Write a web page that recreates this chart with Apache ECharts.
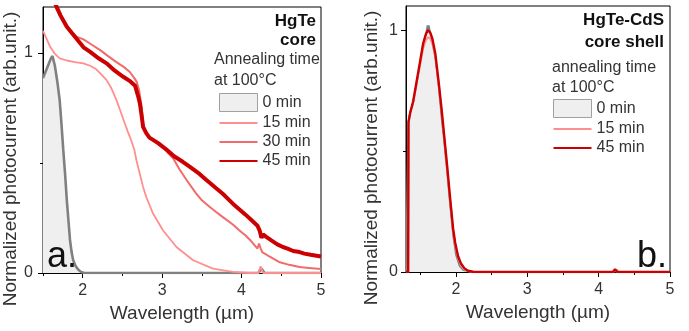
<!DOCTYPE html>
<html><head><meta charset="utf-8">
<script src="https://cdn.jsdelivr.net/npm/echarts@6/dist/echarts.min.js"></script>
<style>html,body{margin:0;padding:0;background:#fff}#c{width:689px;height:331px}</style>
</head><body><div id="c"></div>
<script>
// ---------- Panel a: HgTe core ----------
const aX_0min = [1.50,1.55,1.60,1.62,1.65,1.68,1.71,1.73,1.755,1.78,1.80,1.82,1.84,1.86,1.88,1.91,1.945,1.98,2.02,3.0,4.0,4.21,4.25,4.29,5.0];
const aY_0min = [0.885,0.93,0.975,0.985,0.94,0.87,0.785,0.69,0.56,0.44,0.33,0.24,0.15,0.095,0.058,0.032,0.015,0.005,0.0,0.0,0.0,0.0,0.02,0.0,0.0];

const aX_15min = [1.50,1.55,1.59,1.65,1.71,1.80,1.90,2.01,2.10,2.17,2.24,2.30,2.36,2.425,2.48,2.53,2.57,2.61,2.65,2.676,2.718,2.76,2.80,2.885,3.01,3.18,3.39,3.64,3.89,4.10,4.21,4.24,4.27,5.0];
const aY_15min = [1.10,1.06,1.027,0.995,0.975,0.965,0.958,0.952,0.94,0.925,0.90,0.876,0.84,0.785,0.73,0.679,0.64,0.603,0.56,0.512,0.452,0.391,0.345,0.27,0.194,0.118,0.058,0.02,0.005,0.0,0.0,0.03,0.0,0.0];

const aX_30min = [1.55,1.62,1.67,1.74,1.80,1.92,2.01,2.10,2.22,2.32,2.42,2.52,2.59,2.65,2.68,2.71,2.74,2.76,2.79,2.84,2.95,3.05,3.14,3.22,3.31,3.40,3.43,3.50,3.60,3.68,3.76,3.89,3.97,4.05,4.12,4.20,4.22,4.24,4.26,4.35,4.47,4.60,4.73,4.85,5.0];
const aY_30min = [1.30,1.24,1.20,1.15,1.118,1.073,1.061,1.04,1.012,0.985,0.959,0.935,0.914,0.885,0.868,0.83,0.76,0.68,0.64,0.615,0.585,0.555,0.52,0.47,0.421,0.375,0.36,0.33,0.30,0.277,0.255,0.22,0.194,0.17,0.145,0.111,0.134,0.112,0.095,0.075,0.05,0.037,0.027,0.023,0.018];

const aX_45min = [1.55,1.62,1.67,1.72,1.80,1.92,2.01,2.09,2.20,2.30,2.40,2.51,2.60,2.66,2.70,2.72,2.74,2.76,2.80,2.84,2.95,3.05,3.15,3.26,3.35,3.47,3.55,3.68,3.76,3.89,3.97,4.05,4.14,4.20,4.23,4.25,4.27,4.31,4.37,4.45,4.52,4.58,4.65,4.73,4.79,4.87,5.0];
const aY_45min = [1.32,1.25,1.21,1.17,1.118,1.065,1.025,1.005,0.975,0.952,0.92,0.891,0.87,0.85,0.80,0.77,0.72,0.664,0.635,0.615,0.59,0.562,0.53,0.505,0.482,0.45,0.425,0.385,0.361,0.315,0.29,0.265,0.235,0.215,0.19,0.16,0.175,0.164,0.149,0.13,0.118,0.111,0.10,0.095,0.088,0.083,0.075];

// ---------- Panel b: HgTe-CdS core shell ----------
const bX_0min = [1.30,1.325,1.33,1.34,1.40,1.45,1.50,1.54,1.58,1.60,1.61,1.62,1.64,1.66,1.71,1.76,1.80,1.83,1.87,1.92,1.96,2.00,2.05,2.10,2.20,3.0,4.0,4.22,4.25,4.28,5.0];
const bY_0min = [0.0,0.0,0.60,0.64,0.70,0.78,0.87,0.94,0.985,1.02,1.00,1.02,0.99,0.96,0.89,0.76,0.63,0.55,0.43,0.27,0.15,0.07,0.025,0.008,0.0,0.0,0.0,0.0,0.01,0.0,0.0];

const bX_15min = [1.30,1.33,1.335,1.36,1.40,1.45,1.50,1.54,1.58,1.61,1.64,1.67,1.71,1.76,1.80,1.83,1.87,1.92,1.96,1.99,2.03,2.07,2.12,2.17,2.25,3.0,4.0,4.20,4.23,4.26,5.0];
const bY_15min = [0.0,0.0,0.62,0.66,0.70,0.78,0.86,0.925,0.96,0.97,0.965,0.945,0.89,0.77,0.66,0.57,0.45,0.29,0.17,0.11,0.06,0.03,0.012,0.004,0.0,0.0,0.0,0.0,0.01,0.0,0.0];

const bX_45min = [1.30,1.33,1.335,1.36,1.40,1.45,1.50,1.54,1.58,1.61,1.64,1.67,1.71,1.76,1.80,1.83,1.87,1.92,1.96,1.99,2.03,2.07,2.12,2.17,2.25,3.0,4.0,4.20,4.23,4.26,5.0];
const bY_45min = [0.0,0.0,0.62,0.66,0.705,0.79,0.875,0.945,0.985,1.0,0.99,0.965,0.905,0.78,0.67,0.58,0.46,0.30,0.18,0.12,0.065,0.035,0.015,0.005,0.0,0.0,0.0,0.0,0.012,0.0,0.0];

// ---------- axes / ticks ----------
const xMajorTicks = [2,3,4,5];
const xMinorTicksA = [1.5,2.5,3.5,4.5];
const xMinorTicksB = [1.5,2.5,3.5,4.5];
const yMajorTicks = [0,1];
const yMinorTicks = [0.5];
const legendNamesA = ['0 min','15 min','30 min','45 min'];
const legendNamesB = ['0 min','15 min','45 min'];

const pairs = (xs, ys) => xs.map((x, i) => [x, ys[i]]);

const FONT = 'Liberation Sans, Arial, sans-serif';
const TXT = '#333';
const C0 = '#808080', C0F = '#efefef', C15 = '#ff8f8f', C30 = '#f26b6b', C45 = '#cc0000';

function mainX(gi, min) {
  return {
    gridIndex: gi, type: 'value', min: min, max: 5,
    name: 'Wavelength (µm)', nameLocation: 'middle', nameGap: 26,
    nameTextStyle: {fontFamily: FONT, fontSize: 19, color: TXT},
    axisLine: {lineStyle: {color: '#000', width: 1}},
    axisTick: {customValues: xMajorTicks, length: 5, lineStyle: {color: '#000'}},
    axisLabel: {customValues: xMajorTicks, margin: 10, fontFamily: FONT, fontSize: 16, color: TXT},
    splitLine: {show: false}
  };
}
function minorX(gi, min, ticks) {
  return {
    gridIndex: gi, type: 'value', min: min, max: 5, position: 'bottom',
    axisLine: {show: false},
    axisTick: {customValues: ticks, length: 3, lineStyle: {color: '#000'}},
    axisLabel: {show: false}, splitLine: {show: false}
  };
}
function mainY(gi, max, margin, gap) {
  return {
    gridIndex: gi, type: 'value', min: 0, max: max,
    name: 'Normalized photocurrent (arb.unit.)', nameLocation: 'middle', nameGap: gap,
    nameTextStyle: {fontFamily: FONT, fontSize: 19, color: TXT, padding: [0, 38, 0, 0]},
    axisLine: {show: true, lineStyle: {color: '#000', width: 1}},
    axisTick: {customValues: yMajorTicks, length: 5, lineStyle: {color: '#000'}},
    axisLabel: {customValues: yMajorTicks, margin: margin, fontFamily: FONT, fontSize: 16, color: TXT},
    splitLine: {show: false}
  };
}
function minorY(gi, max) {
  return {
    gridIndex: gi, type: 'value', min: 0, max: max, position: 'left',
    axisLine: {show: false},
    axisTick: {customValues: yMinorTicks, length: 3, lineStyle: {color: '#000'}},
    axisLabel: {show: false}, splitLine: {show: false}
  };
}
function line(name, xi, yi, data, color, width, extra) {
  return Object.assign({
    name: name, type: 'line', xAxisIndex: xi, yAxisIndex: yi, data: data,
    symbol: 'none', showSymbol: false, smooth: false, clip: true,
    lineStyle: {color: color, width: width}, itemStyle: {color: color}, z: 2
  }, extra || {});
}
const lineIcon = 'path://M0,0H38V2.2H0Z';
function legendItems(names) {
  const col = {'0 min': C0F, '15 min': C15, '30 min': C30, '45 min': C45};
  return names.map(n => n === '0 min'
    ? {name: n, icon: 'rect', itemStyle: {color: C0F, borderColor: '#a0a0a0', borderWidth: 1}}
    : {name: n, icon: lineIcon, itemStyle: {color: col[n], borderWidth: 0}});
}
function gtext(txt, x, y, align, bold, size) {
  return {type: 'text', x: x, y: y, z: 100,
    style: {text: txt, fill: bold ? '#111' : TXT, align: align, verticalAlign: 'middle',
      font: (bold ? 'bold ' : '') + size + 'px ' + FONT}};
}

const chart = echarts.init(document.getElementById('c'), null, {renderer: 'canvas'});
chart.setOption({
  animation: false,
  backgroundColor: '#fff',
  grid: [
    {left: 43, top: 7, width: 278, height: 266, show: true, borderColor: '#000', borderWidth: 1, containLabel: false},
    {left: 406, top: 6, width: 264, height: 266, show: true, borderColor: '#000', borderWidth: 1, containLabel: false}
  ],
  xAxis: [mainX(0, 1.5), minorX(0, 1.5, xMinorTicksA), mainX(1, 1.3), minorX(1, 1.3, xMinorTicksB)],
  yAxis: [mainY(0, 1.208, 10, 22), minorY(0, 1.208), mainY(1, 1.10, 8, 25), minorY(1, 1.10)],
  legend: [
    {data: legendItems(legendNamesA), orient: 'vertical', left: 219, top: 93, padding: 0,
     itemWidth: 38, itemHeight: 18, itemGap: 3, selectedMode: false,
     textStyle: {fontFamily: FONT, fontSize: 16, color: TXT}},
    {data: legendItems(legendNamesB), orient: 'vertical', left: 553, top: 99, padding: 0,
     itemWidth: 38, itemHeight: 18, itemGap: 3, selectedMode: false,
     textStyle: {fontFamily: FONT, fontSize: 16, color: TXT}}
  ],
  series: [
    line('0 min', 0, 0, pairs(aX_0min, aY_0min), C0, 2.6, {areaStyle: {color: C0F, opacity: 1}}),
    line('15 min', 0, 0, pairs(aX_15min, aY_15min), C15, 1.8),
    line('30 min', 0, 0, pairs(aX_30min, aY_30min), C30, 2),
    line('45 min', 0, 0, pairs(aX_45min, aY_45min), C45, 4),
    line('0 min', 2, 2, pairs(bX_0min, bY_0min), C0, 1.6, {areaStyle: {color: C0F, opacity: 1}}),
    line('15 min', 2, 2, pairs(bX_15min, bY_15min), C15, 2),
    line('45 min', 2, 2, pairs(bX_45min, bY_45min), C45, 2.4)
  ],
  graphic: [
    gtext('HgTe', 316, 21, 'right', true, 17),
    gtext('core', 316, 40, 'right', true, 17),
    gtext('Annealing time', 214, 60, 'left', false, 16),
    gtext('at 100°C', 214, 81, 'left', false, 16),
    gtext('HgTe-CdS', 664, 20, 'right', true, 17),
    gtext('core shell', 664, 42, 'right', true, 17),
    gtext('annealing time', 552, 68, 'left', false, 16),
    gtext('at 100°C', 552, 88, 'left', false, 16),
    {type: 'text', x: 47, y: 257, z: 100, style: {text: 'a.', fill: '#111', align: 'left', verticalAlign: 'middle', font: '36px ' + FONT}},
    {type: 'text', x: 637, y: 257, z: 100, style: {text: 'b.', fill: '#111', align: 'left', verticalAlign: 'middle', font: '36px ' + FONT}}
  ]
});
</script></body></html>
